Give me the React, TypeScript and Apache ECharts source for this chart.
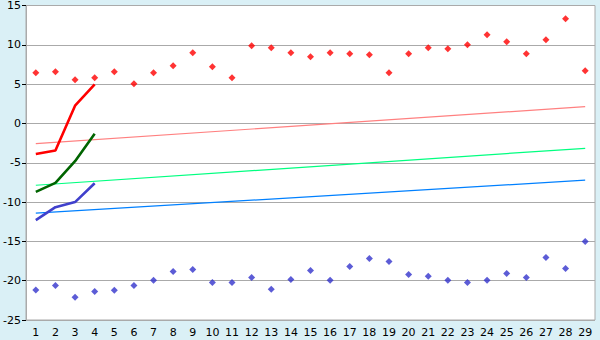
import React, { useEffect, useRef } from "react";
import * as echarts from "echarts";

const categories = Array.from({ length: 29 }, (_, i) => String(i + 1));

const redPoints = [6.45, 6.58, 5.56, 5.81, 6.58, 5.05, 6.45, 7.34, 8.99, 7.21, 5.81, 9.88, 9.63, 8.99, 8.48, 8.99, 8.86, 8.74, 6.45, 8.86, 9.63, 9.5, 10.0, 11.27, 10.39, 8.86, 10.64, 13.31, 6.71];
const bluePoints = [-21.19, -20.6, -22.12, -21.36, -21.23, -20.6, -19.96, -18.82, -18.57, -20.22, -20.22, -19.58, -21.1, -19.84, -18.69, -19.96, -18.19, -17.17, -17.55, -19.2, -19.45, -19.96, -20.22, -19.96, -19.07, -19.58, -17.04, -18.44, -15.0];

const redThick = [-3.88, -3.45, 2.26, 4.97];
const greenThick = [-8.7, -7.56, -4.8, -1.3];
const blueThick = [-12.3, -10.65, -10.0, -7.6];

const pinkTrend = [-2.56, 2.14];
const greenTrend = [-7.86, -3.16];
const blueTrend = [-11.41, -7.22];

const yMin = -25;
const yMax = 15;
const yInterval = 5;

export default function App() {
  const ref = useRef<HTMLDivElement>(null);
  useEffect(() => {
    if (!ref.current) return;
    const chart = echarts.init(ref.current, undefined, { renderer: "svg" });
    const last = categories.length - 1;
    const trend = (vals: number[], color: string) => ({
      type: "line",
      data: [[0, vals[0]], [last, vals[1]]],
      showSymbol: false,
      lineStyle: { color, width: 1.2 },
      silent: true,
      z: 2,
    });
    const thick = (vals: number[], color: string) => ({
      type: "line",
      data: vals,
      showSymbol: false,
      lineStyle: { color, width: 2.6 },
      silent: true,
      z: 3,
    });
    const scatter = (vals: number[], color: string) => ({
      type: "scatter",
      data: vals,
      symbol: "diamond",
      symbolSize: 7,
      itemStyle: { color },
      z: 4,
    });
    chart.setOption({
      animation: false,
      backgroundColor: "#daf0f6",
      textStyle: { fontFamily: "DejaVu Sans" },
      grid: {
        left: 26,
        top: 5,
        width: 569,
        height: 315,
        show: true,
        backgroundColor: "#ffffff",
        borderColor: "#aaaaaa",
        borderWidth: 1,
      },
      xAxis: {
        type: "category",
        data: categories,
        boundaryGap: true,
        axisLine: { lineStyle: { color: "#aaaaaa" } },
        axisTick: { alignWithLabel: true, length: 5, lineStyle: { color: "#000000" } },
        axisLabel: { color: "#000000", fontSize: 11, margin: 7, interval: 0, fontFamily: "DejaVu Sans" },
        splitLine: { show: false },
      },
      yAxis: {
        type: "value",
        min: yMin,
        max: yMax,
        interval: yInterval,
        axisLine: { show: true, lineStyle: { color: "#aaaaaa" } },
        axisTick: { show: true, length: 4, lineStyle: { color: "#000000" } },
        axisLabel: { color: "#000000", fontSize: 11, margin: 5, fontFamily: "DejaVu Sans" },
        splitLine: { lineStyle: { color: "#aaaaaa" } },
      },
      series: [
        trend(pinkTrend, "#ff8080"),
        trend(greenTrend, "#00ff80"),
        trend(blueTrend, "#0080ff"),
        thick(redThick, "#ff0000"),
        thick(greenThick, "#006400"),
        thick(blueThick, "#4040cc"),
        scatter(redPoints, "#ff0000"),
        scatter(bluePoints, "#3333cc"),
      ],
    });
    return () => chart.dispose();
  }, []);
  return (
    <div
      ref={ref}
      style={{ position: "fixed", left: 0, top: 0, width: 600, height: 340 }}
    />
  );
}
